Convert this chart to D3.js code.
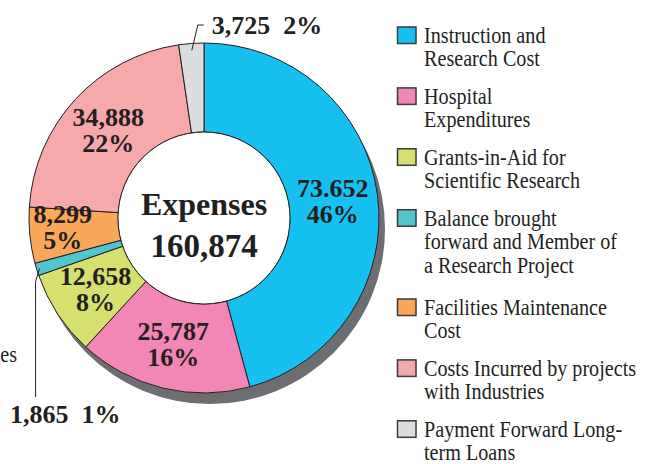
<!DOCTYPE html>
<html>
<head>
<meta charset="utf-8">
<script src="https://cdn.jsdelivr.net/npm/d3@7"></script>
<style>
  html, body { margin: 0; padding: 0; background: #fff; }
  svg { display: block; }
</style>
</head>
<body>
<div id="chart"></div>
<script>
// data
const categories = [
    ["Instruction and", "Research Cost"],
    ["Hospital", "Expenditures"],
    ["Grants-in-Aid for", "Scientific Research"],
    ["Balance brought", "forward and Member of", "a Research Project"],
    ["Facilities Maintenance", "Cost"],
    ["Costs Incurred by projects", "with Industries"],
    ["Payment Forward Long-", "term Loans"]
];
const values = [73652, 25787, 12658, 1865, 8299, 34888, 3725];
const valueLabels = ["73.652", "25,787", "12,658", "1,865", "8,299", "34,888", "3,725"];
const percentLabels = ["46%", "16%", "8%", "1%", "5%", "22%", "2%"];
const colors = ["#16c1f1", "#f286b5", "#d5e06f", "#4fc5cd", "#f8a75b", "#f6a9ab", "#dcdddf"];
const totalLabel = "160,874";
const centerTitle = "Expenses";

const width = 654, height = 464;
const cx = 204, cy = 218, outerR = 175, innerR = 86;
const textColor = "#231f20";
const serif = "'Liberation Serif', 'Times New Roman', serif";

const svg = d3.select("#chart").append("svg")
    .attr("width", width)
    .attr("height", height)
    .attr("viewBox", `0 0 ${width} ${height}`);

const pie = d3.pie().sort(null).value(d => d)(values);
const arc = d3.arc().innerRadius(innerR).outerRadius(outerR);
const labelArc = d3.arc().innerRadius(130).outerRadius(130);
const wideLabelArc = d3.arc().innerRadius(142).outerRadius(142);

const g = svg.append("g").attr("transform", `translate(${cx},${cy})`);

// drop shadow
g.append("circle")
    .attr("cx", 6).attr("cy", 11)
    .attr("r", outerR)
    .attr("fill", "#6d6e71");

g.selectAll("path.slice")
    .data(pie)
    .enter().append("path")
    .attr("class", "slice")
    .attr("d", arc)
    .attr("fill", (d, i) => colors[i])
    .attr("stroke", textColor)
    .attr("stroke-width", 1);

g.append("circle")
    .attr("r", innerR)
    .attr("fill", "#fff")
    .attr("stroke", textColor)
    .attr("stroke-width", 1);

// center text
g.append("text")
    .attr("y", -3)
    .attr("text-anchor", "middle")
    .attr("font-family", serif).attr("font-weight", "bold")
    .attr("font-size", 32).attr("fill", textColor)
    .text(centerTitle);
g.append("text")
    .attr("y", 39)
    .attr("text-anchor", "middle")
    .attr("font-family", serif).attr("font-weight", "bold")
    .attr("font-size", 33).attr("fill", textColor)
    .text(totalLabel);

// inside labels (skip the two small ones)
const inside = pie.filter(d => d.index !== 3 && d.index !== 6);
inside.forEach(d => {
    const c = (d.index === 4 ? wideLabelArc : labelArc).centroid(d);
    const shiftY = d.index === 4 ? -5 : 0;
    const t = g.append("text")
        .attr("text-anchor", "middle")
        .attr("font-family", serif).attr("font-weight", "bold")
        .attr("font-size", 26).attr("fill", textColor);
    t.append("tspan").attr("x", c[0]).attr("y", c[1] - 4 + shiftY).text(valueLabels[d.index]);
    t.append("tspan").attr("x", c[0]).attr("y", c[1] + 22 + shiftY).text(percentLabels[d.index]);
});

// outside labels with leader lines
const edgeArc = d3.arc().innerRadius(168).outerRadius(168);
const grey = pie[6];
const gp = edgeArc.centroid(grey);
g.append("path")
    .attr("d", d3.line()([[gp[0], gp[1]], [gp[0] + 6, -193], [gp[0] + 12, -193]]))
    .attr("fill", "none").attr("stroke", textColor).attr("stroke-width", 1);
g.append("text")
    .attr("x", gp[0] + 20).attr("y", -184)
    .attr("font-family", serif).attr("font-weight", "bold")
    .attr("font-size", 26).attr("fill", textColor)
    .style("white-space", "pre")
    .text(`${valueLabels[6]}  ${percentLabels[6]}`);

const teal = pie[3];
const tp = d3.arc().innerRadius(172).outerRadius(172).centroid(teal);
g.append("path")
    .attr("d", d3.line()([[tp[0], tp[1]], [tp[0] - 4, tp[1] + 13], [tp[0] - 4, 179]]))
    .attr("fill", "none").attr("stroke", textColor).attr("stroke-width", 1);
g.append("text")
    .attr("x", -194).attr("y", 205)
    .attr("font-family", serif).attr("font-weight", "bold")
    .attr("font-size", 26).attr("fill", textColor)
    .style("white-space", "pre")
    .text(`${valueLabels[3]}  ${percentLabels[3]}`);

// stray cut-off text at left edge
svg.append("text")
    .attr("transform", "translate(17,362) scale(0.84,1)")
    .attr("text-anchor", "end")
    .attr("font-family", serif).attr("font-size", 24).attr("fill", textColor)
    .text("es");

// legend
const lineH = 23.4, gap = 37.5;
const legend = svg.append("g").attr("class", "legend");
let baseY = 43;
categories.forEach((lines, i) => {
    const item = legend.append("g");
    item.append("rect")
        .attr("x", 397.5).attr("y", baseY - 16)
        .attr("width", 18.5).attr("height", 16.5)
        .attr("fill", colors[i])
        .attr("stroke", "#3a3a3c").attr("stroke-width", 1.5);
    lines.forEach((ln, j) => {
        item.append("text")
            .attr("transform", `translate(424,${baseY + j * lineH}) scale(0.84,1)`)
            .attr("font-family", serif).attr("font-size", 24).attr("fill", textColor)
            .text(ln);
    });
    baseY += (lines.length - 1) * lineH + gap + (lines.length > 2 ? 5 : 0);
});
</script>
</body>
</html>
